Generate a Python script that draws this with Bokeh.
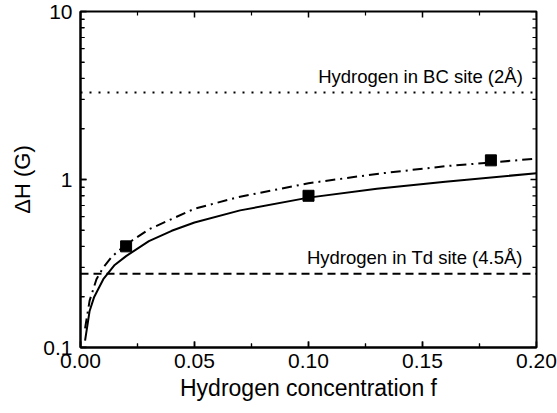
import math
from bokeh.plotting import figure
from bokeh.models import Range1d, FixedTicker, PrintfTickFormatter, Label, Span
from bokeh.embed import file_html
from bokeh.resources import INLINE

# ---- data ----
solid_f = [0.002, 0.004, 0.006, 0.01, 0.015, 0.02, 0.03, 0.04, 0.05, 0.07, 0.1, 0.13, 0.16, 0.2]
solid_dh = [0.11, 0.165, 0.2, 0.255, 0.31, 0.35, 0.43, 0.495, 0.555, 0.655, 0.78, 0.88, 0.97, 1.09]

dashdot_f = [0.002, 0.004, 0.007, 0.01, 0.014, 0.02, 0.03, 0.05, 0.07, 0.1, 0.13, 0.16, 0.2]
dashdot_dh = [0.13, 0.19, 0.255, 0.3, 0.35, 0.41, 0.505, 0.67, 0.79, 0.95, 1.08, 1.2, 1.33]

exp_f = [0.02, 0.1, 0.18]
exp_dh = [0.40, 0.80, 1.30]

bc_level = 3.3      # Hydrogen in BC site (2Å)
td_level = 0.275    # Hydrogen in Td site (4.5Å)
bc_text = "Hydrogen in BC site (2Å)"
td_text = "Hydrogen in Td site (4.5Å)"

x_major = [0.0, 0.05, 0.10, 0.15, 0.20]
x_minor = [0.025, 0.075, 0.125, 0.175]
y_major = [0.1, 1, 10]
y_minor = [0.2, 0.3, 0.4, 0.5, 0.6, 0.7, 0.8, 0.9, 2, 3, 4, 5, 6, 7, 8, 9]

X_LO, X_HI = 0.0, 0.2
Y_LO, Y_HI = 0.1, 10

FONT = "Liberation Sans"

p = figure(width=557, height=413, output_backend="svg", toolbar_location=None,
           x_range=Range1d(X_LO, X_HI), y_range=Range1d(Y_LO, Y_HI), y_axis_type="log",
           min_border_left=80, min_border_right=21, min_border_top=11, min_border_bottom=66)
p.background_fill_color = "white"
p.border_fill_color = "white"
p.outline_line_color = "black"
p.outline_line_width = 2
p.grid.visible = False

for ax in (p.xaxis[0], p.yaxis[0]):
    ax.axis_line_color = "black"
    ax.axis_line_width = 2
    ax.major_tick_in = 6
    ax.major_tick_out = 0
    ax.minor_tick_in = 4
    ax.minor_tick_out = 0
    ax.major_tick_line_width = 1.5
    ax.minor_tick_line_width = 1.2
    ax.major_tick_line_color = "black"
    ax.minor_tick_line_color = "black"
    ax.major_label_text_font = FONT
    ax.major_label_text_font_size = "21px"
    ax.major_label_text_color = "black"
    ax.axis_label_text_font = FONT
    ax.axis_label_text_font_style = "normal"
    ax.axis_label_text_color = "black"

xa = p.xaxis[0]
xa.ticker = FixedTicker(ticks=x_major, minor_ticks=x_minor)
xa.formatter = PrintfTickFormatter(format="%.2f")
xa.axis_label = "Hydrogen concentration f"
xa.axis_label_text_font_size = "23px"
xa.major_label_standoff = 6
xa.axis_label_standoff = 4

ya = p.yaxis[0]
ya.ticker = FixedTicker(ticks=y_major, minor_ticks=y_minor)
ya.formatter = PrintfTickFormatter(format="%g")
ya.axis_label = "ΔH (G)"
ya.axis_label_text_font_size = "22px"
ya.major_label_standoff = 8
ya.axis_label_standoff = 5

# inward tick marks on all four frame edges (half of each dash is clipped by the frame)
for edge_x in (X_LO, X_HI):
    p.scatter([edge_x] * len(y_major), y_major, marker="dash", size=12,
              line_color="black", line_width=1.5)
    p.scatter([edge_x] * len(y_minor), y_minor, marker="dash", size=8,
              line_color="black", line_width=1.2)
for edge_y in (Y_LO, Y_HI):
    p.scatter(x_major, [edge_y] * len(x_major), marker="dash", size=12, angle=math.pi / 2,
              line_color="black", line_width=1.5)
    p.scatter(x_minor, [edge_y] * len(x_minor), marker="dash", size=8, angle=math.pi / 2,
              line_color="black", line_width=1.2)

# horizontal reference levels
p.add_layout(Span(location=bc_level, dimension="width", line_color="black",
                  line_width=2, line_dash="2 7"))
p.add_layout(Span(location=td_level, dimension="width", line_color="black",
                  line_width=2, line_dash="8 5"))

p.line(solid_f, solid_dh, line_color="black", line_width=2)
p.line(dashdot_f, dashdot_dh, line_color="black", line_width=2, line_dash="10 5 2 5")
p.scatter(exp_f, exp_dh, marker="square", size=11, fill_color="black", line_color="black")

for txt, lvl in [(bc_text, bc_level), (td_text, td_level)]:
    p.add_layout(Label(x=0.194, y=lvl, text=txt, text_align="right",
                       text_baseline="alphabetic", y_offset=16,
                       text_font=FONT, text_font_size="18.5px", text_color="black"))

open("out.html", "w").write(file_html(p, INLINE))
